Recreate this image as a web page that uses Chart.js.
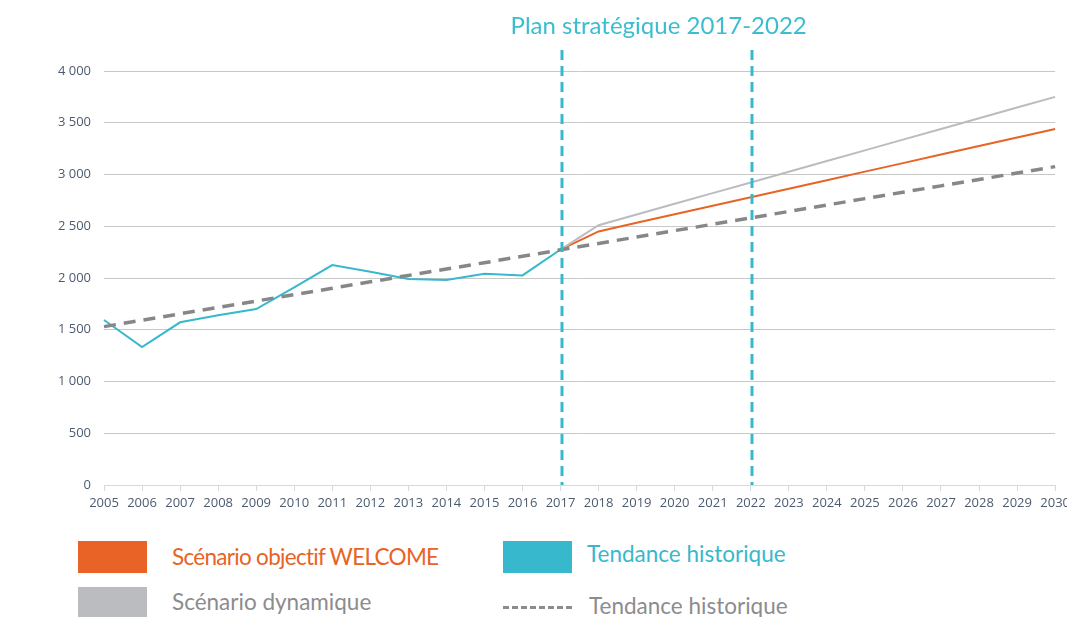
<!DOCTYPE html>
<html>
<head>
<meta charset="utf-8">
<script src="https://cdn.jsdelivr.net/npm/chart.js@4/dist/chart.umd.min.js"></script>
<style>
  body { margin: 0; background: #fff; font-family: Lato, sans-serif; }
  #wrap { position: relative; width: 1067px; height: 617px; overflow: hidden; }
  #c { position: absolute; left: 0; top: 0; }
  .box { position: absolute; width: 69px; height: 32px; }
  .lbl { position: absolute; font-size: 22.5px; line-height: 32px; white-space: nowrap; }
  .dash { position: absolute; width: 69px; height: 0; border-top: 3px dashed #8c8c8e; }
</style>
</head>
<body>
<div id="wrap">
  <canvas id="c" width="1074" height="525"></canvas>
  <div class="box" style="left:78px;top:541px;background:#e86325"></div>
  <div class="lbl" style="left:172px;top:541px;color:#e86325;letter-spacing:-0.7px">Scénario objectif WELCOME</div>
  <div class="box" style="left:78px;top:587px;background:#bbbcc0"></div>
  <div class="lbl" style="left:172px;top:586px;color:#8c8c8e">Scénario dynamique</div>
  <div class="box" style="left:503px;top:541px;background:#38b8cc"></div>
  <div class="lbl" style="left:587px;top:538px;color:#38b8cc">Tendance historique</div>
  <div class="dash" style="left:503px;top:606px"></div>
  <div class="lbl" style="left:589px;top:590px;color:#8c8c8e">Tendance historique</div>
</div>
<script>
const years = ['2005', '2006', '2007', '2008', '2009', '2010', '2011', '2012', '2013', '2014', '2015', '2016', '2017',
    '2018', '2019', '2020', '2021', '2022', '2023', '2024', '2025', '2026', '2027', '2028', '2029', '2030'];

// 2005-2017
const historique = [1594, 1333, 1572, 1640, 1700, 1910, 2125, 2060, 1990, 1980, 2040, 2025, 2275];
// 2017-2030
const objectifWelcome = [2275, 2450, 2533, 2615, 2698, 2780, 2863, 2945, 3028, 3110, 3193, 3275, 3358, 3440];
const scenarioDynamique = [2275, 2510, 2613, 2717, 2820, 2923, 3027, 3130, 3233, 3337, 3440, 3543, 3647, 3750];
// 2005-2030
const tendance = [1530, 1592, 1654, 1716, 1777, 1839, 1901, 1963, 2025, 2087, 2148, 2210, 2272,
    2334, 2396, 2458, 2519, 2581, 2643, 2705, 2767, 2829, 2890, 2952, 3014, 3076];

const planYears = ['2017', '2022'];
const planTitle = 'Plan stratégique 2017-2022';

const pad = n => Array(n).fill(null);

const planPlugin = {
    id: 'plan',
    afterDatasetsDraw(chart) {
        const c = chart.ctx;
        const x = chart.scales.x;
        const bottom = chart.chartArea.bottom;
        c.save();
        c.strokeStyle = '#38b8cc';
        c.lineWidth = 3;
        c.setLineDash([10, 6]);
        planYears.forEach(y => {
            const px = Math.round(x.getPixelForValue(years.indexOf(y))) + 1;
            c.beginPath();
            c.moveTo(px, 50);
            c.lineTo(px, bottom);
            c.stroke();
        });
        const x1 = x.getPixelForValue(years.indexOf(planYears[0]));
        const x2 = x.getPixelForValue(years.indexOf(planYears[1]));
        c.setLineDash([]);
        c.fillStyle = '#3bbdd0';
        c.font = '24px Lato';
        c.textAlign = 'center';
        c.textBaseline = 'middle';
        c.fillText(planTitle, (x1 + x2) / 2 + 3, 26);
        c.restore();
    }
};

const ctx = document.getElementById('c').getContext('2d');
new Chart(ctx, {
    type: 'line',
    data: {
        labels: years,
        datasets: [
            {
                label: 'Tendance historique (pointillés)',
                data: tendance,
                borderColor: '#878789',
                borderWidth: 3.5,
                borderDash: [12, 8]
            },
            {
                label: 'Scénario dynamique',
                data: pad(12).concat(scenarioDynamique),
                borderColor: '#bbbcc0',
                borderWidth: 2
            },
            {
                label: 'Scénario objectif WELCOME',
                data: pad(12).concat(objectifWelcome),
                borderColor: '#e86325',
                borderWidth: 2
            },
            {
                label: 'Tendance historique',
                data: historique,
                borderColor: '#38b8cc',
                borderWidth: 2
            }
        ]
    },
    options: {
        responsive: false,
        animation: false,
        layout: { padding: { top: 71, left: 0, right: 0 } },
        elements: { point: { radius: 0 }, line: { tension: 0 } },
        plugins: { legend: { display: false }, tooltip: { enabled: false } },
        scales: {
            x: {
                offset: false,
                grid: { drawOnChartArea: false, color: '#d5dae0', tickLength: 6 },
                border: { color: '#d5dae0' },
                ticks: {
                    color: '#4d5b70', font: { family: 'Open Sans', size: 13 },
                    maxRotation: 0, autoSkip: false, padding: 4
                },
                afterFit: s => { s.height = 40; }
            },
            y: {
                min: 0, max: 4000,
                grid: { color: '#c8c8c8', drawTicks: false },
                border: { display: false },
                ticks: {
                    stepSize: 500, padding: 13,
                    color: '#4d5b70', font: { family: 'Open Sans', size: 13 },
                    callback: v => v >= 1000 ? Math.floor(v / 1000) + ' ' + String(v % 1000).padStart(3, '0') : String(v)
                },
                afterFit: s => { s.width = 104; }
            }
        }
    },
    plugins: [planPlugin]
});
</script>
</body>
</html>
